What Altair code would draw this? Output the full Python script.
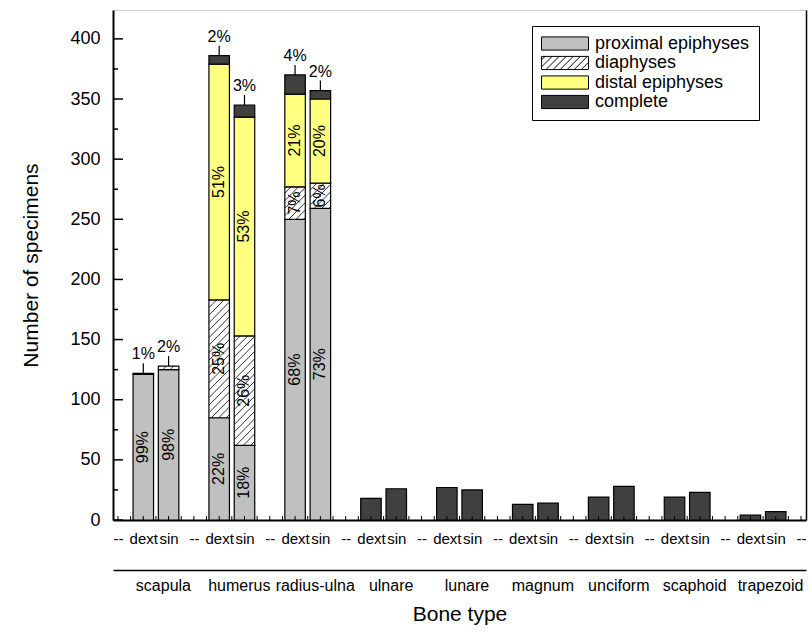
import altair as alt
import pandas as pd
import numpy as np

# ---------------- data ----------------
bones = ["scapula", "humerus", "radius-ulna", "ulnare", "lunare",
         "magnum", "unciform", "scaphoid", "trapezoid"]
sides = ["dext", "sin"]
components = ["proximal epiphyses", "diaphyses", "distal epiphyses", "complete"]
comp_colors = ["#C0C0C0", "#FFFFFF", "#FFFF80", "#404040"]

proximal_dext = [121, 85, 250, 0, 0, 0, 0, 0, 0]
proximal_sin = [125, 62, 259, 0, 0, 0, 0, 0, 0]
diaph_dext = [0, 98, 27, 0, 0, 0, 0, 0, 0]
diaph_sin = [3, 91, 21, 0, 0, 0, 0, 0, 0]
distal_dext = [0, 196, 77, 0, 0, 0, 0, 0, 0]
distal_sin = [0, 182, 70, 0, 0, 0, 0, 0, 0]
complete_dext = [1, 7, 16, 18, 27, 13, 19, 19, 4]
complete_sin = [0, 10, 7, 26, 25, 14, 28, 23, 7]

y_tick_values = list(range(0, 401, 50))
x_tick_labels = ["--", "dext", "sin"]

# ---------------- layout constants ----------------
W, H = 693, 510
XMIN, XMAX = -0.5, 8.5
YMAX = 424
SIDE_SHIFT = 1 / 6
BAR_PX = 20.5
KX = W / (XMAX - XMIN)
KY = H / YMAX
HATCH_PX = 7.5
LEAD_PX = 10

series = {
    "dext": [proximal_dext, diaph_dext, distal_dext, complete_dext],
    "sin": [proximal_sin, diaph_sin, distal_sin, complete_sin],
}

rows = []
for g, bone in enumerate(bones):
    for side, shift in (("dext", -SIDE_SHIFT), ("sin", SIDE_SHIFT)):
        vals = [s[g] for s in series[side]]
        total = sum(vals)
        nz = [i for i, v in enumerate(vals) if v > 0]
        base = 0
        for i, v in enumerate(vals):
            if v <= 0:
                continue
            rows.append(dict(bone=bone, side=side, pos=g + shift, comp=components[i],
                             order=i, value=v, y0=base, y1=base + v, mid=base + v / 2,
                             pct=f"{round(100 * v / total)}%", top=(i == nz[-1]),
                             multi=len(nz) > 1, lead=base + v + LEAD_PX / KY))
            base += v
df = pd.DataFrame(rows)

# hatch lines for diaphyses segments (computed in pixel space, mapped back to data)
hatch = []
for _, r in df[df.comp == "diaphyses"].iterrows():
    X0 = (r.pos - XMIN) * KX - BAR_PX / 2
    X1 = X0 + BAR_PX
    Y0, Y1 = r.y0 * KY, r.y1 * KY
    kmin = int(np.floor((Y0 - X1) / HATCH_PX))
    kmax = int(np.ceil((Y1 - X0) / HATCH_PX))
    for k in range(kmin, kmax + 1):
        c = k * HATCH_PX
        xs = max(X0, Y0 - c)
        xe = min(X1, Y1 - c)
        if xe - xs > 0.3:
            hatch.append(dict(xa=xs / KX + XMIN, ya=(xs + c) / KY,
                              xb=xe / KX + XMIN, yb=(xe + c) / KY))
hatch_df = pd.DataFrame(hatch)

# legend swatch paths (unit box)
hh = 0.28
rect_path = f"M-1,{-hh}L1,{-hh}L1,{hh}L-1,{hh}Z"
hp = rect_path
step = 0.3
c = -1 - hh + step / 2
while c < 1 + hh:
    xs, xe = max(-1, c - hh), min(1, c + hh)
    if xe - xs > 0.02:
        hp += f"M{xs:.3f},{c - xs:.3f}L{xe:.3f},{c - xe:.3f}"
    c += step
shape_range = [rect_path, hp, rect_path, rect_path]

xscale = alt.Scale(domain=[XMIN, XMAX], nice=False, zero=False)
yscale = alt.Scale(domain=[0, YMAX], nice=False, zero=False)

tick_pos = [XMIN + k / 3 for k in range(28)]
minor_pos = [XMIN + k / 6 for k in range(55)]
ytick_df = pd.DataFrame({"v": list(range(0, 401, 25))})
ytick_df["major"] = ytick_df.v % 50 == 0
xtick_df = pd.DataFrame({"p": minor_pos})

lab_js = "[" + ",".join(f"'{t}'" for t in x_tick_labels) + "]"
bone_js = "[" + ",".join(f"'{b}'" for b in bones) + "]"

main_x_axis = alt.Axis(orient="bottom", values=tick_pos, title=None, grid=False, ticks=False,
                       labelExpr=f"{lab_js}[round((datum.value+0.5)*3)%3]",
                       labelFontSize=15, labelPadding=11, labelOverlap=False,
                       labelFlush=False, labelBound=False, labelColor="black",
                       domainColor="black", domainWidth=2)
cat_x_axis = alt.Axis(orient="bottom", values=list(range(len(bones))), offset=50,
                      title="Bone type", grid=False, ticks=False,
                      labelExpr=f"{bone_js}[round(datum.value)]",
                      labelFontSize=16, labelPadding=7, labelOffset=7, labelOverlap=False,
                      labelFlush=False, labelColor="black",
                      domainColor="black", domainWidth=1.5,
                      titleFontSize=21, titleFontWeight="normal", titlePadding=10,
                      titleColor="black")
y_axis = alt.Axis(orient="left", values=y_tick_values, title="Number of specimens",
                  grid=False, ticks=False, labelFontSize=18, labelPadding=13,
                  labelColor="black", domainColor="black", domainWidth=2,
                  titleFontSize=21, titleFontWeight="normal", titlePadding=28,
                  titleColor="black")
y_right_axis = alt.Axis(orient="right", title=None, labels=False, ticks=False, grid=False,
                        domainColor="black", domainWidth=1.5)

fill_scale = alt.Scale(domain=components, range=comp_colors)

bars = alt.Chart(df).mark_bar(size=BAR_PX, stroke="black", strokeWidth=1.2).encode(
    x=alt.X("pos:Q", scale=xscale, axis=main_x_axis),
    y=alt.Y("y0:Q", scale=yscale, axis=y_axis),
    y2="y1:Q",
    fill=alt.Fill("comp:N", scale=fill_scale, legend=None),
)

hatch_layer = alt.Chart(hatch_df).mark_rule(color="black", strokeWidth=0.8).encode(
    x=alt.X("xa:Q", scale=xscale, axis=None),
    y=alt.Y("ya:Q", scale=yscale, axis=None),
    x2="xb:Q", y2="yb:Q",
)

inside = alt.Chart(df[(~df.top) & df.multi]).mark_text(
    angle=270, fontSize=16, color="black", baseline="middle", align="center").encode(
    x=alt.X("pos:Q", scale=xscale, axis=None),
    y=alt.Y("mid:Q", scale=yscale, axis=None),
    text="pct:N",
)

outside = alt.Chart(df[df.top & df.multi]).mark_text(
    fontSize=16, color="black", baseline="alphabetic", align="center", dy=-14).encode(
    x=alt.X("pos:Q", scale=xscale, axis=cat_x_axis),
    y=alt.Y("y1:Q", scale=yscale, axis=None),
    text="pct:N",
)

leaders = alt.Chart(df[df.top & df.multi]).mark_rule(color="black", strokeWidth=1.2).encode(
    x=alt.X("pos:Q", scale=xscale, axis=None),
    y=alt.Y("y1:Q", scale=yscale, axis=y_right_axis),
    y2="lead:Q",
)

ytm = alt.Chart(ytick_df[ytick_df.major]).mark_rule(color="black", strokeWidth=1.5).encode(
    y=alt.Y("v:Q", scale=yscale, axis=None), x=alt.value(0), x2=alt.value(10))
ytn = alt.Chart(ytick_df[~ytick_df.major]).mark_rule(color="black", strokeWidth=1.5).encode(
    y=alt.Y("v:Q", scale=yscale, axis=None), x=alt.value(0), x2=alt.value(5))
xt = alt.Chart(xtick_df).mark_rule(color="black", strokeWidth=1).encode(
    x=alt.X("p:Q", scale=xscale, axis=None), y=alt.value(H), y2=alt.value(H - 4))

leg = dict(title=None, orient="none", legendX=419, legendY=16)
legend_layer = alt.Chart(df).mark_point(
    filled=True, opacity=0, size=1, strokeWidth=1).encode(
    x=alt.X("pos:Q", scale=xscale, axis=None),
    y=alt.Y("y1:Q", scale=yscale, axis=None),
    fill=alt.Fill("comp:N", scale=fill_scale, legend=alt.Legend(**leg)),
    stroke=alt.Stroke("comp:N", scale=alt.Scale(domain=components, range=["black"] * 4),
                      legend=alt.Legend(**leg)),
    shape=alt.Shape("comp:N", scale=alt.Scale(domain=components, range=shape_range),
                    legend=alt.Legend(**leg)),
)

chart = alt.layer(
    bars, hatch_layer, inside, outside, leaders, ytm, ytn, xt, legend_layer
).resolve_axis(x="independent", y="independent").resolve_legend(
    fill="independent", shape="independent", stroke="independent"
).properties(
    width=W, height=H,
    autosize=alt.AutoSizeParams(type="none"),
    padding={"left": 113, "top": 10, "right": 5, "bottom": 112},
).configure(font="Liberation Sans").configure_view(
    stroke="#cccccc", strokeWidth=1
).configure_legend(
    strokeColor="black", fillColor="white", padding=9, cornerRadius=0,
    labelFontSize=18, labelColor="black", labelOffset=6, labelLimit=300,
    symbolSize=47 * 47, symbolStrokeWidth=1,
    symbolOpacity=1, clipHeight=17, rowPadding=0.5,
)

chart.save("out.html", embed_options={"renderer": "svg", "actions": False})
